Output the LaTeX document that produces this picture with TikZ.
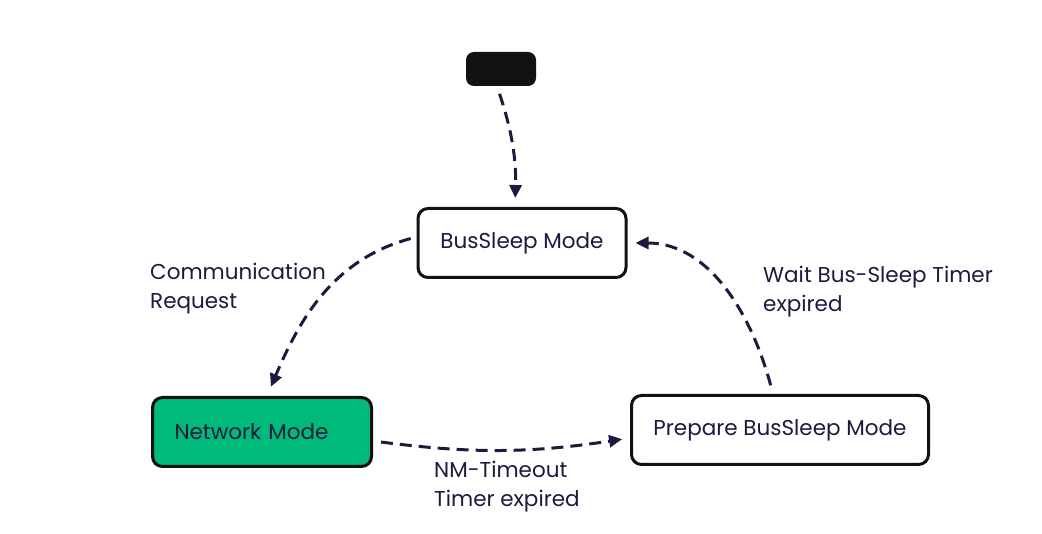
\documentclass[tikz,border=0pt]{standalone}
\usepackage{fontspec}
\setmainfont{Poppins}
\usetikzlibrary{positioning,arrows.meta}
\definecolor{navy}{HTML}{1A1B3F}
\definecolor{mgreen}{HTML}{00BA7C}
\definecolor{edge}{HTML}{111111}

\begin{document}
\begin{tikzpicture}[
    x=1pt, y=-1pt,
    every node/.style={font=\fontsize{21.5}{29}\selectfont, text=navy},
    box/.style={draw=edge, line width=3pt, rounded corners=10pt, fill=white, minimum height=69pt, align=center},
    lbl/.style={anchor=west, align=left, inner sep=0pt},
    flow/.style={draw=navy, line width=3pt, dash pattern=on 12pt off 7pt, -{Triangle[length=13pt,width=12pt]}}
]
\useasboundingbox (0,0) rectangle (1042,534);

% 状态节点
\node[fill=edge, rounded corners=8pt, minimum width=70pt, minimum height=34pt] (start) at (501,69) {};
\node[box, minimum width=208pt] (sleep) at (522,243) {BusSleep Mode};
\node[box, fill=mgreen, text width=175pt, inner xsep=22pt, align=left] (network) at (262,432) {Network Mode};
\node[box, minimum width=297pt] (prepare) at (780,430) {Prepare BusSleep Mode};

% 标签
\node[lbl] (comm) at (150,289) {Communication\\Request};
\node[lbl] (wait) at (763,292) {Wait Bus-Sleep Timer\\expired};
\node[lbl] (nmto) at (434,487) {NM-Timeout\\Timer expired};

% 连接线
\draw[flow, shorten <=8pt, shorten >=9pt] ([xshift=-4pt]start.south) to[bend left=10] ([xshift=-7pt]sleep.north);
\draw[flow, shorten <=6pt, shorten >=10pt] ([yshift=6pt]sleep.west) to[out=195, in=67] ([xshift=5pt]network.north);
\draw[flow, shorten <=8pt, shorten >=8pt] ([yshift=-9pt]network.east) to[bend right=8] ([yshift=-8pt]prepare.west);
\draw[flow, shorten <=9pt, shorten >=8pt] ([xshift=-7pt]prepare.north) to[out=105, in=0] (sleep.east);

\end{tikzpicture}
\end{document}
